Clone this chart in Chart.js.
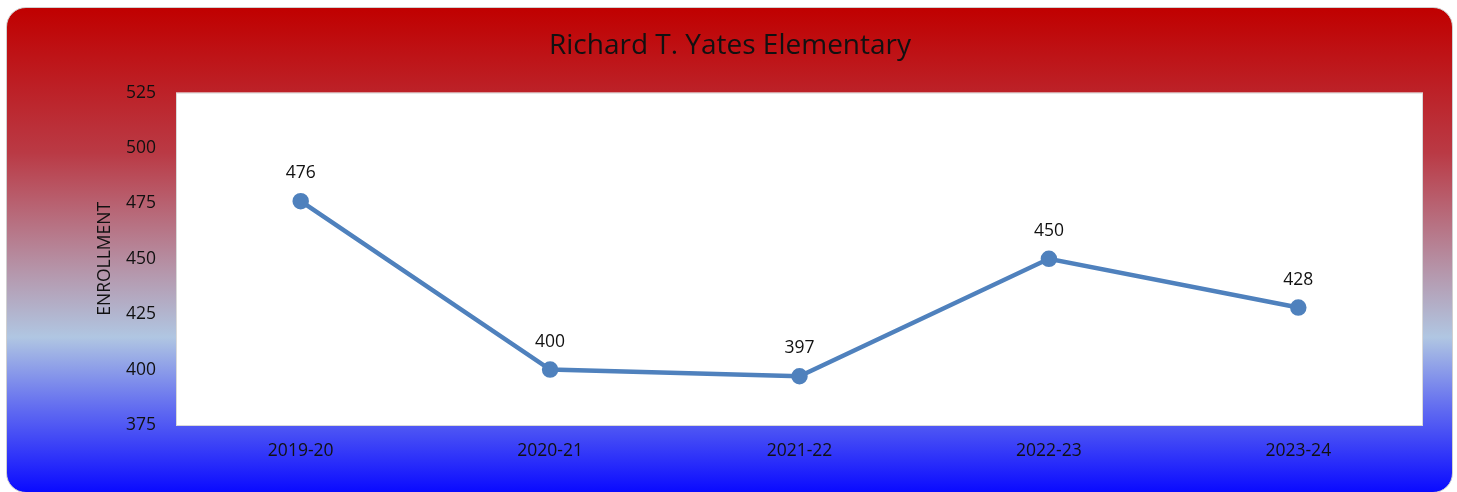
<!DOCTYPE html>
<html>
<head>
<meta charset="utf-8">
<script src="https://cdn.jsdelivr.net/npm/chart.js@4"></script>
<style>
  html, body { margin: 0; padding: 0; width: 1457px; height: 492px; overflow: hidden; background: #fff; }
  #card {
    position: absolute; left: 6px; top: 7px; width: 1445px; height: 484px;
    border: 1px solid #d0d0d0; border-radius: 20px;
    background: linear-gradient(to bottom, #C00000 0%, #BA3A45 30%, #B598AD 55%, #B0C6E2 68%, #6570F0 82%, #0A0AFF 100%);
  }
  #wrap { position: absolute; left: 0; top: 0; width: 1457px; height: 492px; }
</style>
</head>
<body>
<div id="card"></div>
<div id="wrap"><canvas id="enrollChart"></canvas></div>
<script>
const years = ['2019-20', '2020-21', '2021-22', '2022-23', '2023-24'];
const enrollment = [476, 400, 397, 450, 428];
const yMin = 375;
const yMax = 525;
const yStep = 25;

const fontFamily = '"Open Sans", "Noto Sans", sans-serif';

// white plot area + border
const plotBg = {
    id: 'plotBg',
    beforeDraw(chart) {
        const { ctx, chartArea: a } = chart;
        ctx.save();
        ctx.fillStyle = '#ffffff';
        ctx.fillRect(a.left, a.top, a.right - a.left, a.bottom - a.top);
        ctx.strokeStyle = '#d9d9d9';
        ctx.lineWidth = 1;
        ctx.strokeRect(a.left + 0.5, a.top + 0.5, a.right - a.left - 1, a.bottom - a.top);
        ctx.restore();
    }
};

// value labels above each point
const valueLabels = {
    id: 'valueLabels',
    afterDatasetsDraw(chart) {
        const { ctx } = chart;
        const meta = chart.getDatasetMeta(0);
        ctx.save();
        ctx.font = '17.5px ' + fontFamily;
        ctx.fillStyle = '#111';
        ctx.textAlign = 'center';
        ctx.textBaseline = 'middle';
        meta.data.forEach((pt, i) => {
            ctx.fillText(String(enrollment[i]), pt.x, pt.y - 28);
        });
        ctx.restore();
    }
};

const ctx = document.getElementById('enrollChart').getContext('2d');
const chart = new Chart(ctx, {
    type: 'line',
    data: {
        labels: years,
        datasets: [{
            label: 'Enrollment',
            data: enrollment,
            borderColor: '#4F81BD',
            backgroundColor: '#4F81BD',
            borderWidth: 4.5,
            pointRadius: 6,
            pointHoverRadius: 6,
            tension: 0
        }]
    },
    options: {
        responsive: true,
        maintainAspectRatio: false,
        animation: false,
        layout: { padding: { left: 37, right: 34, top: 0, bottom: 0 } },
        plugins: {
            legend: { display: false },
            tooltip: { enabled: false },
            title: {
                display: true,
                text: 'Richard T. Yates Elementary',
                color: '#111',
                font: { family: fontFamily, size: 28, weight: 'normal' },
                padding: { top: 29, bottom: 30 }
            }
        },
        scales: {
            x: {
                offset: true,
                grid: { display: false, drawTicks: false },
                border: { display: false },
                ticks: { color: '#111', font: { family: fontFamily, size: 17.5 }, padding: 16 },
                afterFit(scale) { scale.height = 67; }
            },
            y: {
                min: yMin,
                max: yMax,
                grid: { display: false, drawTicks: false },
                border: { display: false },
                ticks: { stepSize: yStep, color: '#111', font: { family: fontFamily, size: 17.5 }, padding: 20 },
                title: {
                    display: true,
                    text: 'ENROLLMENT',
                    color: '#111',
                    font: { family: fontFamily, size: 17.5 },
                    padding: { top: 58, bottom: 0 }
                },
                afterFit(scale) { scale.width = 139; }
            }
        }
    },
    plugins: [plotBg, valueLabels]
});
</script>
</body>
</html>
